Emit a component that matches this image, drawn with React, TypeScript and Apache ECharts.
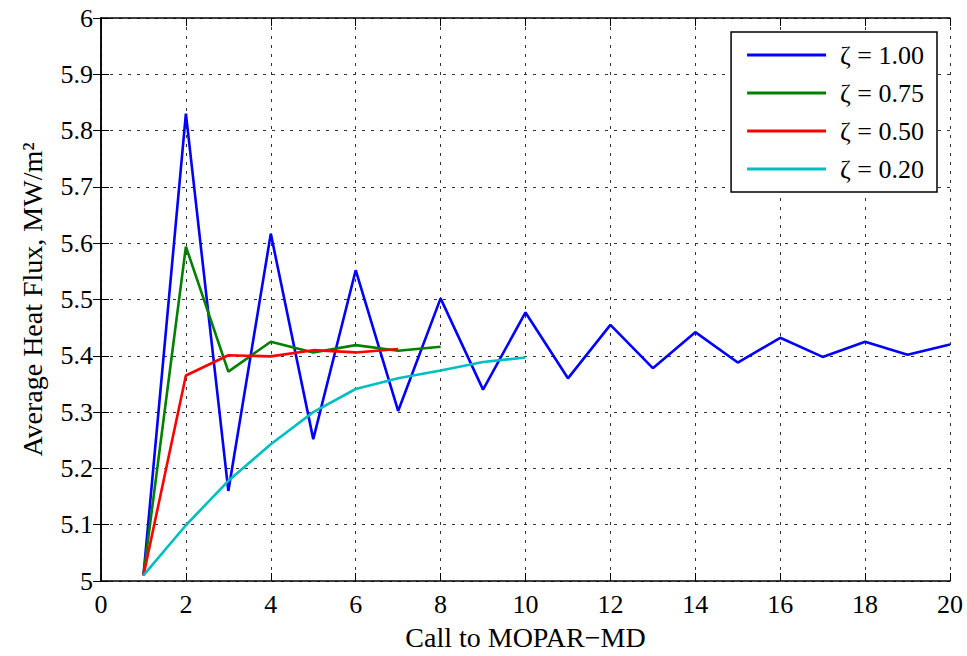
import React, { useEffect, useRef } from "react";
import * as echarts from "echarts";

const calls = [1, 2, 3, 4, 5, 6, 7, 8, 9, 10, 11, 12, 13, 14, 15, 16, 17, 18, 19, 20];
const zeta100 = [5.01, 5.83, 5.16, 5.617, 5.252, 5.552, 5.302, 5.502, 5.34, 5.477, 5.36, 5.455, 5.378, 5.442, 5.388, 5.432, 5.398, 5.425, 5.402, 5.42];
const zeta075 = [5.01, 5.594, 5.372, 5.425, 5.406, 5.419, 5.409, 5.416];
const zeta050 = [5.01, 5.365, 5.401, 5.399, 5.41, 5.406, 5.412];
const zeta020 = [5.01, 5.099, 5.178, 5.243, 5.3, 5.341, 5.36, 5.374, 5.389, 5.397];
const seriesNames = ["ζ = 1.00", "ζ = 0.75", "ζ = 0.50", "ζ = 0.20"];
const seriesColors = ["#0000ff", "#008000", "#ff0000", "#00bfbf"];
const xTitle = "Call to MOPAR−MD";
const yTitle = "Average Heat Flux, MW/m²";

const FONT = "Liberation Serif";

export default function App() {
  const ref = useRef<HTMLDivElement>(null);
  useEffect(() => {
    document.body.style.margin = "0";
    document.body.style.overflow = "hidden";
    if (!ref.current) return;
    const chart = echarts.init(ref.current, undefined, { renderer: "svg" });
    const data = [zeta100, zeta075, zeta050, zeta020];
    const dashed = { type: [3, 6] as any, color: "#333", width: 1 };
    const axisLine = { show: true, lineStyle: { color: "#000", width: 1.5 } };
    const tick = { show: true, inside: true, length: 8, lineStyle: { color: "#000" } };
    chart.setOption({
      animation: false,
      backgroundColor: "#fff",
      textStyle: { fontFamily: FONT },
      grid: { left: 101, top: 18, right: 17, bottom: 70, containLabel: false },
      xAxis: [
        {
          type: "value",
          min: 0,
          max: 20,
          interval: 2,
          name: xTitle,
          nameLocation: "middle",
          nameGap: 42,
          nameTextStyle: { fontFamily: FONT, fontSize: 28, color: "#000" },
          axisLine,
          axisTick: tick,
          axisLabel: { fontFamily: FONT, fontSize: 26, color: "#000", margin: 10 },
          splitLine: { show: true, lineStyle: dashed },
        },
        {
          type: "value",
          position: "top",
          min: 0,
          max: 20,
          interval: 2,
          axisLine,
          axisTick: tick,
          axisLabel: { show: false },
          splitLine: { show: false },
        },
      ],
      yAxis: [
        {
          type: "value",
          min: 5,
          max: 6,
          interval: 0.1,
          name: yTitle,
          nameLocation: "middle",
          nameGap: 55,
          nameTextStyle: { fontFamily: FONT, fontSize: 28, color: "#000" },
          axisLine,
          axisTick: tick,
          axisLabel: {
            fontFamily: FONT,
            fontSize: 26,
            color: "#000",
            margin: 8,
            formatter: (v: number) => String(Math.round(v * 10) / 10),
          },
          splitLine: { show: true, lineStyle: dashed },
        },
        {
          type: "value",
          position: "right",
          min: 5,
          max: 6,
          interval: 0.1,
          axisLine,
          axisTick: tick,
          axisLabel: { show: false },
          splitLine: { show: false },
        },
      ],
      legend: {
        orient: "vertical",
        right: 30,
        top: 32,
        backgroundColor: "#fff",
        borderColor: "#000",
        borderWidth: 1.5,
        borderRadius: 0,
        padding: [10, 13, 10, 16],
        itemGap: 12,
        itemWidth: 79,
        itemHeight: 3,
        icon: "rect",
        textStyle: { fontFamily: FONT, fontSize: 26, color: "#000", padding: [0, 0, 0, 9] },
        data: seriesNames,
      },
      series: data.map((vals, i) => ({
        name: seriesNames[i],
        type: "line",
        symbol: "none",
        color: seriesColors[i],
        lineStyle: { color: seriesColors[i], width: 2.6 },
        data: vals.map((v, j) => [calls[j], v]),
      })),
    });
    return () => chart.dispose();
  }, []);
  return <div ref={ref} style={{ width: 967, height: 656 }} />;
}
